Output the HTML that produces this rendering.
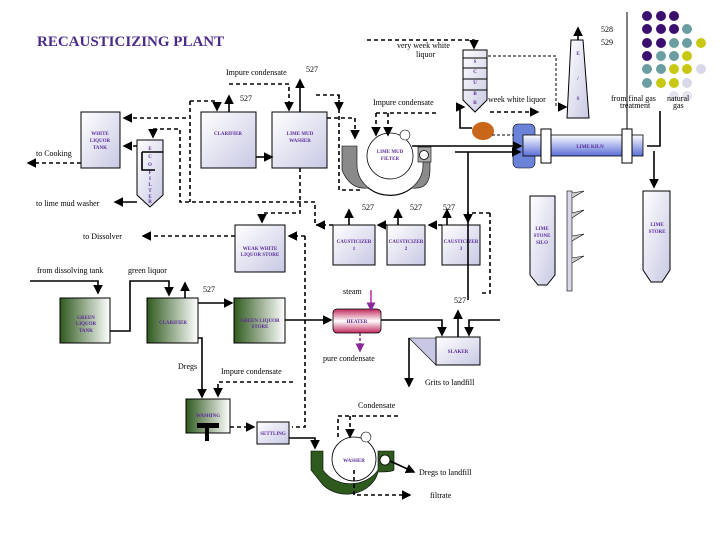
<!DOCTYPE html>
<html><head><meta charset="utf-8"><style>
html,body{margin:0;padding:0;background:#fff;}
svg{display:block;font-family:"Liberation Serif",serif;}
.l{font-size:8px;fill:#000;}
.b{font-size:5px;fill:#5a2a9a;font-weight:bold;text-anchor:middle;}
.s{stroke:#000;stroke-width:1.6;fill:none;}
.t{stroke:#000;stroke-width:1;fill:none;}
.d{stroke:#000;stroke-width:1.6;fill:none;stroke-dasharray:4 3;}
.dt{stroke:#000;stroke-width:1;fill:none;stroke-dasharray:3 2;}
.box{fill:url(#lav);stroke:#000;stroke-width:1;}
.gbox{fill:url(#grn);stroke:#000;stroke-width:1;}
</style></head><body>
<svg width="720" height="540" viewBox="0 0 720 540" xmlns="http://www.w3.org/2000/svg">
<defs>
<linearGradient id="lav" x1="0" y1="0" x2="1" y2="1"><stop offset="0" stop-color="#fff"/><stop offset="1" stop-color="#c8c8e4"/></linearGradient>
<linearGradient id="grn" x1="0" y1="0" x2="1" y2="0"><stop offset="0" stop-color="#2f5a1e"/><stop offset="1" stop-color="#fff"/></linearGradient>
<linearGradient id="kiln" x1="0" y1="0" x2="0" y2="1"><stop offset="0" stop-color="#fff"/><stop offset="1" stop-color="#5a6ed8"/></linearGradient>
<linearGradient id="ht" x1="0" y1="0" x2="0" y2="1"><stop offset="0" stop-color="#c0285a"/><stop offset="0.5" stop-color="#fff"/><stop offset="1" stop-color="#c0285a"/></linearGradient>
<marker id="a" markerWidth="6" markerHeight="6" refX="5" refY="3" orient="auto"><path d="M0,0L6,3L0,6z" fill="#000"/></marker>
<marker id="ap" markerWidth="6" markerHeight="6" refX="5" refY="3" orient="auto"><path d="M0,0L6,3L0,6z" fill="#8a2a9a"/></marker>
</defs>
<text x="37" y="46" font-size="15" font-weight="bold" fill="#4b2a8a">RECAUSTICIZING PLANT</text>

<g>
<circle cx="647" cy="16" r="5" fill="#3b0f6e"/><circle cx="661" cy="16" r="5" fill="#3b0f6e"/><circle cx="674" cy="16" r="5" fill="#3b0f6e"/>
<circle cx="647" cy="29" r="5" fill="#3b0f6e"/><circle cx="661" cy="29" r="5" fill="#3b0f6e"/><circle cx="674" cy="29" r="5" fill="#3b0f6e"/><circle cx="687" cy="29" r="5" fill="#6a9ea0"/>
<circle cx="647" cy="43" r="5" fill="#3b0f6e"/><circle cx="661" cy="43" r="5" fill="#3b0f6e"/><circle cx="674" cy="43" r="5" fill="#6a9ea0"/><circle cx="687" cy="43" r="5" fill="#6a9ea0"/><circle cx="701" cy="43" r="5" fill="#c8c814"/>
<circle cx="647" cy="56" r="5" fill="#3b0f6e"/><circle cx="661" cy="56" r="5" fill="#6a9ea0"/><circle cx="674" cy="56" r="5" fill="#6a9ea0"/><circle cx="687" cy="56" r="5" fill="#c8c814"/>
<circle cx="647" cy="69" r="5" fill="#6a9ea0"/><circle cx="661" cy="69" r="5" fill="#6a9ea0"/><circle cx="674" cy="69" r="5" fill="#c8c814"/><circle cx="687" cy="69" r="5" fill="#c8c814"/><circle cx="701" cy="69" r="5" fill="#d8d8e8"/>
<circle cx="647" cy="83" r="5" fill="#6a9ea0"/><circle cx="661" cy="83" r="5" fill="#c8c814"/><circle cx="674" cy="83" r="5" fill="#c8c814"/><circle cx="687" cy="83" r="5" fill="#d8d8e8"/>
<circle cx="674" cy="96" r="5" fill="#e4e4ee"/><circle cx="687" cy="96" r="5" fill="#e4e4ee"/>
</g>
<line x1="627" y1="12" x2="627" y2="130" class="t"/>

<text x="226" y="75" class="l">Impure condensate</text>
<text x="306" y="72" class="l" font-size="6">527</text>
<text x="240" y="101" class="l" font-size="6">527</text>
<text x="373" y="105" class="l">Impure condensate</text>
<text x="397" y="48" class="l">very week white</text>
<text x="416" y="57" class="l">liquor</text>
<text x="488" y="102" class="l">week white liquor</text>
<text x="601" y="32" class="l" font-size="6">528</text>
<text x="601" y="45" class="l" font-size="6">529</text>
<text x="611" y="101" class="l">from final gas</text>
<text x="620" y="108" class="l">treatment</text>
<text x="667" y="101" class="l">natural</text>
<text x="673" y="108" class="l">gas</text>
<text x="36" y="156" class="l">to Cooking</text>
<text x="36" y="206" class="l">to lime mud washer</text>
<text x="83" y="239" class="l">to Dissolver</text>
<text x="37" y="273" class="l">from dissolving tank</text>
<text x="128" y="273" class="l">green liquor</text>
<text x="362" y="210" class="l" font-size="6">527</text>
<text x="410" y="210" class="l" font-size="6">527</text>
<text x="443" y="210" class="l" font-size="6">527</text>
<text x="203" y="292" class="l" font-size="6">527</text>
<text x="343" y="294" class="l">steam</text>
<text x="454" y="303" class="l" font-size="6">527</text>
<text x="323" y="361" class="l">pure condensate</text>
<text x="178" y="369" class="l">Dregs</text>
<text x="221" y="374" class="l">Impure condensate</text>
<text x="425" y="385" class="l">Grits to landfill</text>
<text x="358" y="408" class="l">Condensate</text>
<text x="419" y="475" class="l">Dregs to landfill</text>
<text x="430" y="498" class="l">filtrate</text>

<rect x="81" y="112" width="39" height="56" class="box"/>
<text x="100" y="135" class="b">WHITE</text><text x="100" y="142" class="b">LIQUOR</text><text x="100" y="149" class="b">TANK</text>
<path d="M137,140H163V195L150,207L137,195Z" class="box"/>
<text class="b" x="150" y="150">E</text><text class="b" x="150" y="158">C</text><text class="b" x="150" y="166">O</text><text class="b" x="150" y="174">F</text><text class="b" x="150" y="180">I</text><text class="b" x="150" y="186">L</text><text class="b" x="150" y="192">T</text><text class="b" x="150" y="198">E</text><text class="b" x="150" y="203">R</text>
<rect x="201" y="112" width="55" height="56" class="box"/><text x="228" y="135" class="b">CLARIFIER</text>
<rect x="272" y="112" width="55" height="56" class="box"/><text x="300" y="135" class="b">LIME MUD</text><text x="300" y="142" class="b">WASHER</text>
<path d="M342,146H357V165A33,30 0 0 0 423,165V150H430V170Q430,190 412,188A33,30 0 0 1 368,188Q350,190 342,170Z" fill="#8a8a8a" stroke="#000" stroke-width="0.6"/>
<rect x="418" y="147" width="13" height="15" fill="#aaa" stroke="#000" stroke-width="0.6"/>
<circle cx="424" cy="155" r="4.5" fill="#fff" stroke="#000" stroke-width="0.8"/>
<circle cx="390" cy="156" r="23" fill="#fff" stroke="#000" stroke-width="0.8"/>
<circle cx="405" cy="135" r="5" fill="#fff" stroke="#000" stroke-width="0.6"/>
<text x="390" y="153" class="b">LIME MUD</text><text x="390" y="160" class="b">FILTER</text>
<path d="M463,50H487V100L475,112L463,100Z" class="box"/>
<path d="M463,58H487M463,68H487M463,79H487M463,90H487" class="t"/>
<text class="b" x="475" y="63">S</text><text class="b" x="475" y="73">C</text><text class="b" x="475" y="84">U</text><text class="b" x="475" y="95">B</text><text class="b" x="475" y="104">R</text>
<path d="M571,40H583L589,118H567Z" class="box"/>
<line x1="578" y1="40" x2="578" y2="28" class="s" marker-end="url(#a)"/>
<text class="b" x="578" y="55">E</text><text class="b" x="578" y="80">/</text><text class="b" x="578" y="100">S</text>
<rect x="513" y="124" width="22" height="44" rx="5" fill="#6a82d8" stroke="#000" stroke-width="0.6"/>
<rect x="523" y="135" width="120" height="21" fill="url(#kiln)" stroke="#000" stroke-width="0.8"/>
<rect x="541" y="129" width="10" height="34" fill="#fff" stroke="#000"/>
<rect x="622" y="129" width="10" height="34" fill="#fff" stroke="#000"/>
<text x="590" y="148" class="b">LIME KILN</text>
<ellipse cx="483" cy="131" rx="11" ry="9" fill="#c8661a"/>
<rect x="333" y="225" width="42" height="40" class="box"/><text x="354" y="243" class="b">CAUSTICIZER</text><text x="354" y="250" class="b">1</text>
<rect x="387" y="225" width="38" height="40" class="box"/><text x="406" y="243" class="b">CAUSTICIZER</text><text x="406" y="250" class="b">2</text>
<rect x="442" y="225" width="38" height="40" class="box"/><text x="461" y="243" class="b">CAUSTICIZER</text><text x="461" y="250" class="b">3</text>
<rect x="235" y="225" width="50" height="47" class="box"/><text x="260" y="250" class="b">WEAK WHITE</text><text x="260" y="256" class="b">LIQUOR STORE</text>
<path d="M530,196H555V275L547,285H538L530,275Z" class="box"/><text x="542" y="230" class="b">LIME</text><text x="542" y="237" class="b">STONE</text><text x="542" y="244" class="b">SILO</text>
<rect x="567" y="191" width="5" height="100" fill="#d8d8e8" stroke="#000" stroke-width="0.6"/>
<path d="M572,193L584,191L572,198M572,213L584,210L572,218M572,236L584,234L572,241M572,258L584,256L572,263" fill="#ccc" stroke="#000" stroke-width="0.6"/>
<path d="M643,191H670V270L662,282H651L643,270Z" class="box"/><text x="657" y="226" class="b">LIME</text><text x="657" y="233" class="b">STORE</text>

<rect x="60" y="298" width="50" height="45" class="gbox"/><text x="86" y="319" class="b">GREEN</text><text x="86" y="325" class="b">LIQUOR</text><text x="86" y="332" class="b">TANK</text>
<rect x="147" y="298" width="51" height="45" class="gbox"/><text x="173" y="324" class="b">CLARIFIER</text>
<rect x="234" y="298" width="51" height="45" class="gbox"/><text x="260" y="322" class="b">GREEN LIQUOR</text><text x="260" y="328" class="b">STORE</text>
<rect x="333" y="309" width="48" height="24" rx="4" fill="url(#ht)" stroke="#000" stroke-width="0.8"/><text x="357" y="323" class="b">HEATER</text>
<path d="M409,338H436V365Z" fill="#c8c8e4" stroke="#000" stroke-width="0.6"/>
<rect x="436" y="337" width="44" height="28" class="box"/><text x="458" y="353" class="b">SLAKER</text>
<rect x="186" y="399" width="44" height="34" class="gbox"/><text x="208" y="417" class="b">WASHING</text>
<rect x="197" y="423" width="22" height="5" fill="#000"/><rect x="205" y="425" width="4" height="16" fill="#000"/>
<rect x="257" y="422" width="32" height="22" class="box"/><text x="273" y="435" class="b">SETTLING</text>
<path d="M311,451H323V470A32,28 0 0 0 378,470V451H394V470Q392,472 378,472A32,28 0 0 1 323,485Q311,470 311,470Z" fill="#2f5a1e" stroke="#000" stroke-width="0.6"/>
<circle cx="385" cy="460" r="5" fill="#fff" stroke="#000" stroke-width="0.8"/>
<circle cx="354" cy="459" r="22" fill="#fff" stroke="#000" stroke-width="0.8"/>
<circle cx="366" cy="437" r="5" fill="#fff" stroke="#000" stroke-width="0.6"/>
<text x="354" y="462" class="b">WASHER</text>

<g class="s">
<path d="M256,157H272" marker-end="url(#a)"/>
<path d="M229,112V96" marker-end="url(#a)"/>
<path d="M300,112V80" marker-end="url(#a)"/>
<path d="M137,202H115" marker-end="url(#a)"/>
<path d="M412,146H500"/>
<path d="M500,146H521" marker-end="url(#a)"/>
<path d="M142,152H163"/>
<path d="M142,152V170H155"/>
<path d="M647,146H660V111"/>
<path d="M349,225V210" marker-end="url(#a)"/>
<path d="M398,225V210" marker-end="url(#a)"/>
<path d="M447,225V210" marker-end="url(#a)"/>
<path d="M560,107H566" marker-end="url(#a)"/>
<path d="M460,107H464" marker-end="url(#a)"/>
<path d="M460,107V128H472"/>
<path d="M455,152H520" marker-end="url(#a)"/>
<path d="M468,152V300"/>
<path d="M654,151V187" marker-end="url(#a)"/>
<path d="M30,281H98V293" marker-end="url(#a)"/>
<path d="M110,331H130V281H169V295" marker-end="url(#a)"/>
<path d="M185,298V283" marker-end="url(#a)"/>
<path d="M198,303H232" marker-end="url(#a)"/>
<path d="M198,338H202V397" marker-end="url(#a)"/>
<path d="M285,320H331" marker-end="url(#a)"/>
<path d="M381,320H442V335" marker-end="url(#a)"/>
<path d="M458,337V311" marker-end="url(#a)"/>
<path d="M500,320H469V335" marker-end="url(#a)"/>
<path d="M409,338V386" marker-end="url(#a)"/>
<path d="M289,438H315V448" marker-end="url(#a)"/>
<path d="M390,461L414,472" marker-end="url(#a)"/>
</g>
<path d="M371,290V310" stroke="#c02a9a" stroke-width="1.5" marker-end="url(#ap)"/>
<path d="M360,333V351" stroke="#8a2a9a" stroke-width="1.5" stroke-dasharray="3 2" marker-end="url(#ap)"/>

<g class="d">
<path d="M186,118H124" marker-end="url(#a)"/>
<path d="M137,146H124" marker-end="url(#a)"/>
<path d="M81,163H28" marker-end="url(#a)"/>
<path d="M190,101H217V110" marker-end="url(#a)"/>
<path d="M229,84H289V110" marker-end="url(#a)"/>
<path d="M316,95H339V110" marker-end="url(#a)"/>
<path d="M327,118H355V138" marker-end="url(#a)"/>
<path d="M339,95V190H360"/>
<path d="M153,129H180V202H315V225H320"/>
<path d="M190,101V202"/>
<path d="M153,129V137" marker-end="url(#a)"/>
<path d="M300,168V213H262V222" marker-end="url(#a)"/>
<path d="M235,236H143" marker-end="url(#a)"/>
<path d="M305,236H289" marker-end="url(#a)"/>
<path d="M305,236V427H292"/>
<path d="M333,225H317" marker-end="url(#a)"/>
<path d="M387,225H378" marker-end="url(#a)"/>
<path d="M442,225H429" marker-end="url(#a)"/>
<path d="M490,213V293H482"/>
<path d="M490,213H468V222" marker-end="url(#a)"/>
<path d="M376,113V135" marker-end="url(#a)"/>
<path d="M388,113V135" marker-end="url(#a)"/>
<path d="M376,113H437"/>
<path d="M490,112H538" marker-end="url(#a)"/>
<path d="M367,40H474V48" marker-end="url(#a)"/>
<path d="M230,427H254" marker-end="url(#a)"/>
<path d="M293,382H218V396" marker-end="url(#a)"/>
<path d="M398,416H338V437M350,416V437" marker-end="url(#a)"/>
<path d="M354,470V495H410" marker-end="url(#a)"/>
</g>
<path d="M488,56H556V107" class="dt"/>
<path d="M492,135H514" class="dt"/>
</svg>
</body></html>
